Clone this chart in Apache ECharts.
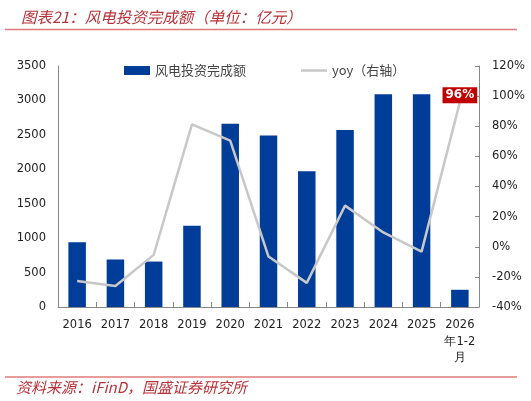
<!DOCTYPE html>
<html><head><meta charset="utf-8">
<script src="https://cdn.jsdelivr.net/npm/echarts@6/dist/echarts.min.js"></script>
<style>html,body{margin:0;padding:0;background:#fff}#c{width:531px;height:401px}</style>
</head><body><div id="c"></div>
<script>
var categories = ['2016','2017','2018','2019','2020','2021','2022','2023','2024','2025','2026\n年1-2\n月'];
var investment = [940, 690, 660, 1180, 2660, 2490, 1970, 2570, 3090, 3090, 250];
var yoy = [-22.7, -26, -5.4, 81.2, 70.5, -6.5, -24, 27.3, 9.5, -3.2, 96];
var leftTicks = {min: 0, max: 3500, interval: 500};
var rightTicks = {min: -40, max: 120, interval: 20};

var chart = echarts.init(document.getElementById('c'), null, {renderer: 'canvas'});
var red = '#b8323a';
var fontLbl = 'DejaVu Sans';
chart.setOption({
  animation: false,
  title: {
    text: '图表21：风电投资完成额（单位：亿元）',
    left: 16, top: 4,
    textStyle: {color: red, fontSize: 15.5, fontStyle: 'italic', fontWeight: 'normal', fontFamily: 'Noto Sans CJK SC'}
  },
  graphic: [
    {type: 'line', shape: {x1: 5, y1: 29.5, x2: 517, y2: 29.5}, style: {stroke: '#e07a7a', lineWidth: 1.5}},
    {type: 'line', shape: {x1: 5, y1: 377, x2: 517, y2: 377}, style: {stroke: '#e07a7a', lineWidth: 1.5}},
    {type: 'text', left: 16, top: 380, style: {text: '资料来源：iFinD，国盛证券研究所', fill: red, font: 'italic 15px "Noto Sans CJK SC"'}}
  ],
  legend: {
    left: 119, top: 59,
    itemGap: 55,
    itemWidth: 26, itemHeight: 9,
    textStyle: {color: '#444', fontSize: 13, fontFamily: 'Noto Sans CJK SC'},
    data: [
      {name: '风电投资完成额', icon: 'rect'},
      {name: 'yoy（右轴）', icon: 'path://M0,0 L26,0 L26,2.5 L0,2.5 Z', itemStyle: {color: '#c8c8c8'}}
    ]
  },
  grid: {left: 58, right: 52, top: 66, bottom: 94, containLabel: false},
  xAxis: {
    type: 'category', data: categories,
    axisLine: {lineStyle: {color: '#888', width: 1}},
    axisTick: {show: true, inside: true, length: 5, lineStyle: {color: '#888'}},
    axisLabel: {color: '#222', fontSize: 11.5, fontFamily: fontLbl, margin: 10, lineHeight: 16.5, interval: 0}
  },
  yAxis: [
    {
      type: 'value', min: leftTicks.min, max: leftTicks.max, interval: leftTicks.interval,
      axisLine: {show: true, lineStyle: {color: '#888'}},
      axisTick: {show: false},
      splitLine: {show: false},
      axisLabel: {color: '#222', fontSize: 11.5, fontFamily: fontLbl, margin: 12, formatter: function (v) { return String(v); }}
    },
    {
      type: 'value', min: rightTicks.min, max: rightTicks.max, interval: rightTicks.interval,
      position: 'right',
      axisLine: {show: true, lineStyle: {color: '#888'}},
      axisTick: {show: true, inside: true, length: 4, lineStyle: {color: '#888'}},
      splitLine: {show: false},
      axisLabel: {color: '#222', fontSize: 11.5, fontFamily: fontLbl, margin: 13, formatter: '{value}%'}
    }
  ],
  series: [
    {
      name: '风电投资完成额', type: 'bar', data: investment, barWidth: 17.5,
      itemStyle: {color: '#003d99'}
    },
    {
      name: 'yoy（右轴）', type: 'line', yAxisIndex: 1, data: yoy,
      symbol: 'none', lineStyle: {color: '#c8c8c8', width: 2.5},
      itemStyle: {color: '#c8c8c8'},
      markPoint: {
        symbol: 'rect', symbolSize: 0,
        data: [{coord: [10, 96], value: '96%'}],
        label: {show: true, position: 'top', distance: -1, formatter: '{c}', backgroundColor: '#c00000', color: '#fff',
          fontWeight: 'bold', fontSize: 12, fontFamily: fontLbl, padding: [2, 3, 2, 3]}
      }
    }
  ]
});
</script></body></html>
